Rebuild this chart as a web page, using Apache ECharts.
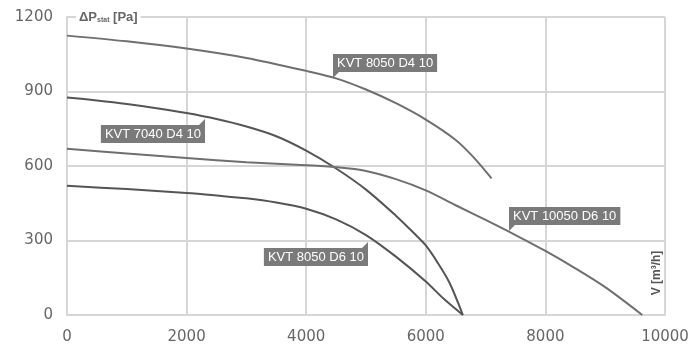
<!DOCTYPE html>
<html>
<head>
<meta charset="utf-8">
<script src="https://cdn.jsdelivr.net/npm/echarts@6/dist/echarts.min.js"></script>
<style>html,body{margin:0;padding:0;background:#fff}#c{width:692px;height:349px}</style>
</head>
<body>
<div id="c"></div>
<script>
// Flow V [m3/h] and static pressure [Pa] per fan model
const flow8050D4 = [0, 1000, 2000, 3000, 4000, 4500, 5000, 5500, 6000, 6500, 6800, 7100];
const pres8050D4 = [1125, 1102, 1073, 1035, 983, 953, 908, 853, 787, 705, 635, 550];
const flow7040D4 = [0, 500, 1000, 1500, 2000, 2500, 3000, 3500, 4000, 4500, 5000, 5500, 5800, 6000, 6200, 6400, 6620];
const pres7040D4 = [876, 864, 850, 833, 813, 789, 759, 720, 662, 590, 505, 400, 330, 280, 210, 128, 0];
const flow10050D6 = [0, 1000, 2000, 3000, 4000, 4500, 5000, 5500, 6000, 6500, 7000, 7500, 8000, 8500, 9000, 9620];
const pres10050D6 = [669, 650, 632, 615, 603, 595, 580, 547, 502, 442, 383, 322, 258, 188, 112, 0];
const flow8050D6 = [0, 1000, 2000, 2500, 3000, 3500, 4000, 4500, 5000, 5500, 6000, 6300, 6620];
const pres8050D6 = [520, 507, 491, 481, 470, 453, 428, 385, 322, 235, 135, 65, 0];
const seriesNames = ['KVT 8050 D4 10', 'KVT 7040 D4 10', 'KVT 10050 D6 10', 'KVT 8050 D6 10'];
// label pointer anchors (data coords) and box side
const labelAnchorX = [4443, 2308, 7391, 5033];
const labelAnchorY = [953, 788, 340, 292];
const labelSide = ['upright', 'downleft', 'upright', 'downleft'];
const xTicks = [0, 2000, 4000, 6000, 8000, 10000];
const yTicks = [0, 300, 600, 900, 1200];

const flows = [flow8050D4, flow7040D4, flow10050D6, flow8050D6];
const pres = [pres8050D4, pres7040D4, pres10050D6, pres8050D6];
const lineColors = ['#6f6f6f', '#555', '#6f6f6f', '#555'];

const chart = echarts.init(document.getElementById('c'), null, {renderer: 'canvas'});
const gridColor = '#d6d6d6';
chart.setOption({
  animation: false,
  grid: {left: 67, right: 27, top: 17, bottom: 34},
  xAxis: {
    type: 'value', min: xTicks[0], max: xTicks[xTicks.length - 1], interval: 2000,
    axisLine: {show: true, lineStyle: {color: gridColor, width: 2}},
    axisTick: {show: false},
    splitLine: {show: true, lineStyle: {color: gridColor, width: 2}},
    axisLabel: {color: '#666', fontFamily: 'DejaVu Sans', fontSize: 15, margin: 15, showMaxLabel: true, showMinLabel: true,
      formatter: v => String(v)}
  },
  yAxis: {
    type: 'value', min: yTicks[0], max: yTicks[yTicks.length - 1], interval: 300,
    axisLine: {show: true, lineStyle: {color: gridColor, width: 2}},
    axisTick: {show: false},
    splitLine: {show: true, lineStyle: {color: gridColor, width: 2}},
    axisLabel: {color: '#666', fontFamily: 'DejaVu Sans', fontSize: 15, margin: 14, formatter: v => String(v)}
  },
  series: seriesNames.map((n, i) => ({
    name: n, type: 'line', smooth: 0.3, symbol: 'none',
    lineStyle: {color: lineColors[i], width: 2},
    data: flows[i].map((x, k) => [x, pres[i][k]])
  }))
});

const gfx = [];
seriesNames.forEach((n, i) => {
  const p = chart.convertToPixel({gridIndex: 0}, [labelAnchorX[i], labelAnchorY[i]]);
  const tx = Math.round(p[0]), ty = Math.round(p[1]);
  const up = labelSide[i] === 'upright';
  gfx.push({
    type: 'text', z: 100, x: tx, y: up ? ty - 6 : ty + 6,
    style: {
      text: n, fill: '#fff', backgroundColor: '#7a7a7a', padding: [3, 4, 2, 4],
      font: '13px "Liberation Sans", Arial, sans-serif',
      align: up ? 'left' : 'right', verticalAlign: up ? 'bottom' : 'top'
    }
  });
  gfx.push({
    type: 'polygon', z: 100,
    shape: {points: up ? [[tx, ty - 7], [tx, ty], [tx + 7, ty - 7]] : [[tx, ty + 7], [tx, ty], [tx - 7, ty + 7]]},
    style: {fill: '#7a7a7a'}
  });
});
gfx.push({
  type: 'text', z: 100, x: 76, y: 17,
  style: {
    text: '{a|ΔP}{b|stat}{a| [Pa]}', backgroundColor: '#fff', padding: [1, 3],
    verticalAlign: 'middle', align: 'left',
    rich: {
      a: {fontFamily: '"Liberation Sans", Arial', fontSize: 13, fontWeight: 'bold', fill: '#666', color: '#666'},
      b: {fontFamily: '"Liberation Sans", Arial', fontSize: 7, fontWeight: 'bold', fill: '#666', color: '#666', verticalAlign: 'bottom', padding: [4, 0, 0, 0]}
    }
  }
});
gfx.push({
  type: 'text', z: 100, x: 657, y: 273, rotation: Math.PI / 2,
  style: {
    text: 'V [m³/h]', fill: '#555', backgroundColor: '#fff', padding: [0, 2],
    font: 'bold 12px "Liberation Sans", Arial', align: 'center', verticalAlign: 'middle'
  }
});
chart.setOption({graphic: gfx});
</script>
</body>
</html>
